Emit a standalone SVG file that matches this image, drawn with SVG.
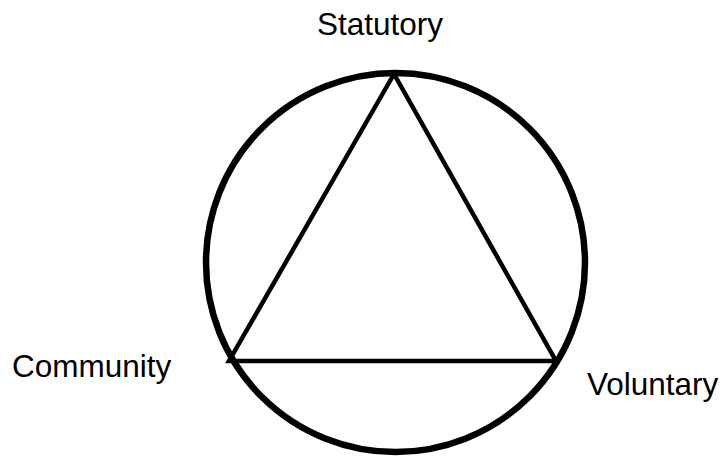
<svg xmlns="http://www.w3.org/2000/svg" width="721" height="459" viewBox="0 0 721 459">
<style>
.lbl{font-family:"Liberation Sans",Arial,sans-serif;font-size:31.5px;fill:#000}
.ln{fill:none;stroke:#000}
</style>
<rect width="721" height="459" fill="#fff"/>
<g id="connectors">
<circle class="ln" cx="395.5" cy="262.5" r="189.5" stroke-width="6.5"/>
<polygon class="ln" points="394,74 229,361 556,361" stroke-width="4.5" stroke-linejoin="miter"/>
</g>
<g id="statutory"><text class="lbl" x="317" y="35">Statutory</text></g>
<g id="community"><text class="lbl" x="12" y="377">Community</text></g>
<g id="voluntary"><text class="lbl" x="587" y="395">Voluntary</text></g>
</svg>
